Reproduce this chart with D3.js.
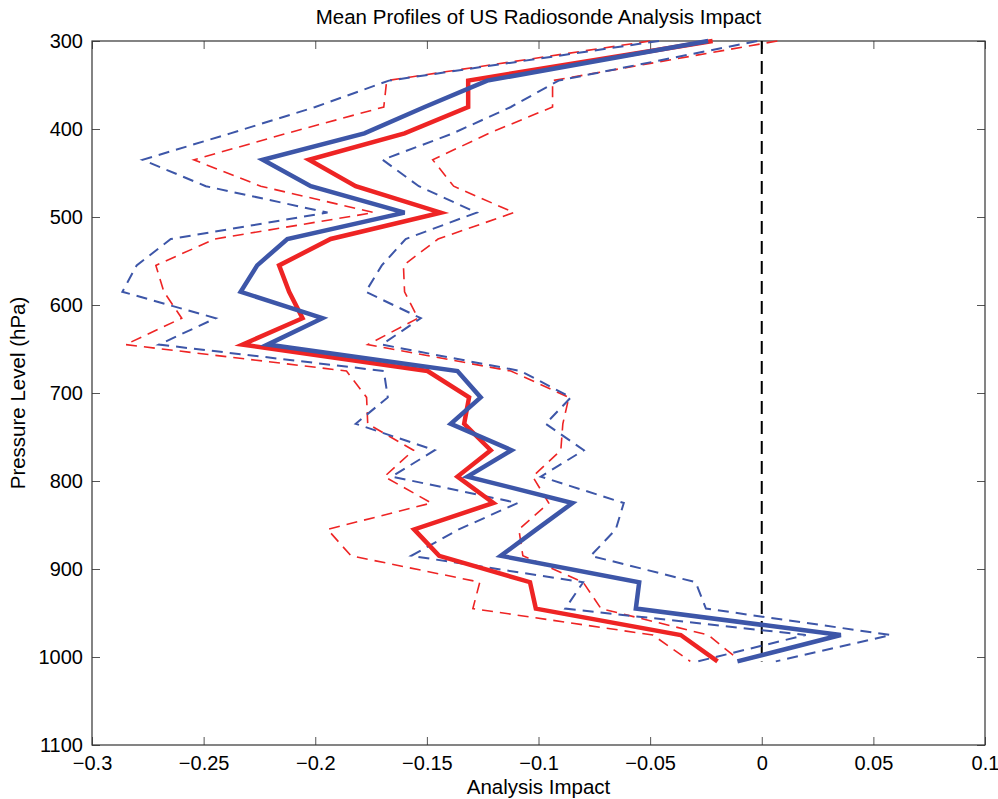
<!DOCTYPE html>
<html>
<head>
<meta charset="utf-8">
<script src="https://cdn.jsdelivr.net/npm/d3@7"></script>
<style>
  body { margin: 0; background: #fff; }
  text { font-family: "Liberation Sans", Arial, sans-serif; fill: #000; }
</style>
</head>
<body>
<div id="chart"></div>
<script>
// pressure levels (hPa)
var levels = [300, 345, 375, 405, 435, 465, 495, 525, 555, 585, 615, 645, 675, 705, 735, 765, 795, 825, 855, 885, 915, 945, 975, 1005];

// blue profile: mean and bounds
var blueMean = [-0.024, -0.123, -0.151, -0.178, -0.2235, -0.202, -0.160, -0.2125, -0.226, -0.2334, -0.1968, -0.2214, -0.1363, -0.1259, -0.1393, -0.1121, -0.1318, -0.0848, -0.1009, -0.1169, -0.0549, -0.0564, 0.0354, -0.0109];
var blueLow = [-0.046, -0.167, -0.200, -0.238, -0.2774, -0.249, -0.1945, -0.2647, -0.280, -0.2864, -0.2446, -0.270, -0.1693, -0.1675, -0.1819, -0.1465, -0.1657, -0.1093, -0.1357, -0.157, -0.080, -0.088, 0.0197, -0.0287];
var blueHigh = [-0.002, -0.091, -0.1124, -0.1384, -0.1698, -0.1536, -0.1277, -0.1595, -0.1702, -0.1774, -0.1527, -0.1702, -0.108, -0.0855, -0.0968, -0.0797, -0.099, -0.0618, -0.0654, -0.0766, -0.0296, -0.025, 0.0578, 0.0063];

// red profile: mean and bounds
var redMean = [-0.022, -0.1315, -0.1315, -0.160, -0.2028, -0.1819, -0.1438, -0.1931, -0.2162, -0.2117, -0.2057, -0.2326, -0.1497, -0.1311, -0.1333, -0.1214, -0.1363, -0.1202, -0.1557, -0.1445, -0.1038, -0.1012, -0.0363, -0.0198];
var redLow = [-0.050, -0.168, -0.1693, -0.2128, -0.2544, -0.2244, -0.1738, -0.245, -0.2714, -0.2678, -0.2598, -0.285, -0.186, -0.177, -0.1765, -0.156, -0.169, -0.148, -0.1945, -0.184, -0.1263, -0.1294, -0.0488, -0.032];
var redHigh = [0.007, -0.0937, -0.0937, -0.1223, -0.1474, -0.138, -0.111, -0.145, -0.1605, -0.160, -0.154, -0.1765, -0.1124, -0.0864, -0.0891, -0.090, -0.1026, -0.0954, -0.1088, -0.107, -0.080, -0.072, -0.024, -0.0094];

// zero reference line
var zeroLine = [[0, 300], [0, 1005]];

var xTicks = [-0.3, -0.25, -0.2, -0.15, -0.1, -0.05, 0, 0.05, 0.1];
var yTicks = [300, 400, 500, 600, 700, 800, 900, 1000, 1100];

var svgWidth = 998;
var svgHeight = 799;
var margin = { top: 41, right: 13, bottom: 54, left: 92 };
var width = svgWidth - margin.left - margin.right;
var height = svgHeight - margin.top - margin.bottom;

var blue = "#3d56a8";
var red = "#ee2424";

var svg = d3.select("#chart")
    .append("svg")
    .attr("width", svgWidth)
    .attr("height", svgHeight);

var chartGroup = svg.append("g")
    .attr("transform", `translate(${margin.left}, ${margin.top})`);

var xScale = d3.scaleLinear().domain([-0.3, 0.1]).range([0, width]);
var yScale = d3.scaleLinear().domain([300, 1100]).range([0, height]);

var fmt = function (d) { return d === 0 ? "0" : d3.format("")(d).replace("-", "\u2212"); };

// axes: box with inward ticks on all four sides
var xAxis = d3.axisBottom(xScale).tickValues(xTicks).tickSize(-8).tickPadding(11).tickFormat(fmt);
var xAxisTop = d3.axisTop(xScale).tickValues(xTicks).tickSize(-8).tickFormat("");
var yAxis = d3.axisLeft(yScale).tickValues(yTicks).tickSize(-8).tickPadding(9).tickFormat(d3.format("d"));
var yAxisRight = d3.axisRight(yScale).tickValues(yTicks).tickSize(-8).tickFormat("");

function styleAxis(g) {
    g.select(".domain").remove();
    g.selectAll(".tick line").attr("stroke", "#555").attr("stroke-width", 1);
    g.selectAll(".tick text").attr("font-size", "20px").attr("fill", "#000");
}

chartGroup.append("g").attr("transform", `translate(0, ${height})`).call(xAxis).call(styleAxis);
chartGroup.append("g").call(xAxisTop).call(styleAxis);
chartGroup.append("g").call(yAxis).call(styleAxis);
chartGroup.append("g").attr("transform", `translate(${width}, 0)`).call(yAxisRight).call(styleAxis);

chartGroup.append("rect")
    .attr("x", 0).attr("y", 0)
    .attr("width", width).attr("height", height)
    .attr("fill", "none")
    .attr("stroke", "#333")
    .attr("stroke-width", 1.2);

var line = d3.line()
    .x(d => xScale(d[0]))
    .y(d => yScale(d[1]));

function profile(values) {
    return values.map((v, i) => [v, levels[i]]);
}

// zero line
chartGroup.append("path")
    .attr("d", line(zeroLine))
    .attr("fill", "none")
    .attr("stroke", "#000")
    .attr("stroke-width", 2)
    .attr("stroke-dasharray", "13,7");

// bounds (dashed)
[[redLow, red], [redHigh, red], [blueLow, blue], [blueHigh, blue]].forEach(function (s) {
    chartGroup.append("path")
        .attr("d", line(profile(s[0])))
        .attr("fill", "none")
        .attr("stroke", s[1])
        .attr("stroke-width", s[1] === blue ? 2 : 1.6)
        .attr("stroke-dasharray", "11,7");
});

// means (solid)
[[redMean, red], [blueMean, blue]].forEach(function (s) {
    chartGroup.append("path")
        .attr("d", line(profile(s[0])))
        .attr("fill", "none")
        .attr("stroke", s[1])
        .attr("stroke-width", 4.5)
        .attr("stroke-linejoin", "miter");
});

// labels
svg.append("text")
    .attr("x", margin.left + width / 2)
    .attr("y", 24)
    .attr("text-anchor", "middle")
    .attr("font-size", "20.5px")
    .text("Mean Profiles of US Radiosonde Analysis Impact");

svg.append("text")
    .attr("x", margin.left + width / 2)
    .attr("y", 794)
    .attr("text-anchor", "middle")
    .attr("font-size", "20.5px")
    .text("Analysis Impact");

svg.append("text")
    .attr("transform", `translate(25, ${margin.top + height / 2}) rotate(-90)`)
    .attr("text-anchor", "middle")
    .attr("font-size", "20.5px")
    .text("Pressure Level (hPa)");
</script>
</body>
</html>
